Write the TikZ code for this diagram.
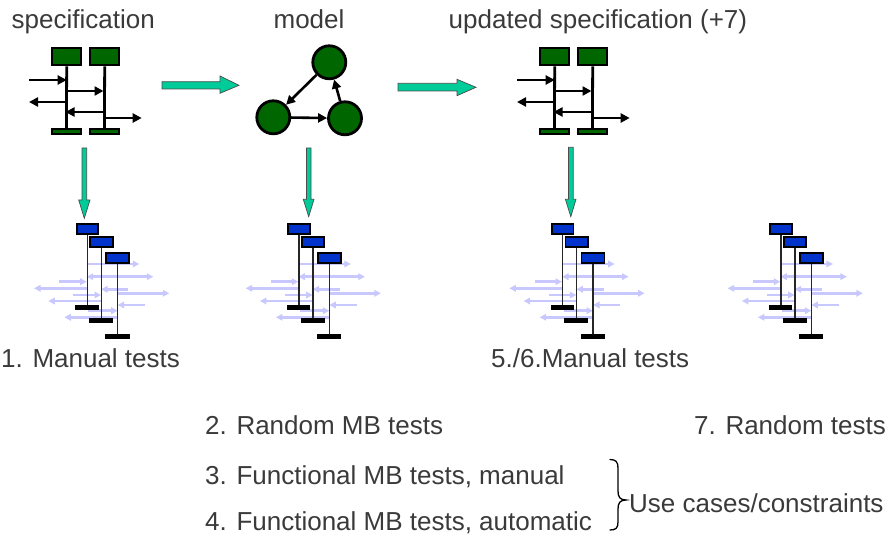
\documentclass[tikz,border=0pt]{standalone}
\usepackage{fontspec}
\setmainfont{Liberation Sans}
\usetikzlibrary{arrows.meta}
\definecolor{specgreen}{HTML}{006600}
\definecolor{testblue}{HTML}{0033CC}
\definecolor{msglav}{HTML}{C8C8FF}
\definecolor{flowteal}{HTML}{00CC99}
\definecolor{txtgray}{HTML}{3A3A3A}
\tikzset{
  lbl/.style={font=\fontsize{26}{30}\selectfont, text=txtgray, inner sep=0pt},
  gbox/.style={draw=black, line width=2.4pt, fill=specgreen},
  gbar/.style={draw=black, line width=1.8pt, fill=specgreen},
  gline/.style={draw=black, line width=2.8pt},
  gmsg/.style={draw=black, line width=2.6pt, -{Triangle[length=9pt,width=9pt]}},
  bbox/.style={draw=black, line width=1.8pt, fill=testblue},
  bbar/.style={fill=black},
  bline/.style={draw=black!85, line width=1.3pt},
  lmsg/.style={draw=msglav, line width=2.6pt, -{Triangle[length=6.5pt,width=6.5pt]}},
  ball/.style={circle, draw=black, line width=2.8pt, fill=specgreen, minimum size=33pt, inner sep=0pt},
  bigarrow/.style={draw=black!70, line width=0.7pt, fill=flowteal, line join=miter},
  pics/specdiag/.style={code={
    \node[gbox, minimum width=29pt, minimum height=17pt, inner sep=0pt, anchor=north west] (-b1) at (0,0) {};
    \node[gbox, minimum width=29pt, minimum height=17pt, inner sep=0pt, anchor=north west] (-b2) at (38,0) {};
    \node[gbar, minimum width=29pt, minimum height=5.5pt, inner sep=0pt, anchor=north west] (-e1) at (0,81) {};
    \node[gbar, minimum width=29pt, minimum height=5.5pt, inner sep=0pt, anchor=north west] (-e2) at (38,81) {};
    \draw[gline] (-b1.south) -- (-e1.north);
    \draw[gline] (-b2.south) -- (-e2.north);
    \coordinate (-in1) at (-22,33);
    \coordinate (-out1) at (-22,55);
    \coordinate (-out2) at (90.7,71);
    \draw[gmsg] (-in1) -- (-in1 -| -b1.south);
    \draw[gmsg] (14.5,44) -- (52.5,44);
    \draw[gmsg] (-out1 -| -b1.south) -- (-out1);
    \draw[gmsg] (52.5,65) -- (14.5,65);
    \draw[gmsg] (-out2 -| -b2.south) -- (-out2);
  }},
  pics/testdiag/.style={code={
    % messages first, so that the lifelines lie over them
    \draw[lmsg] (11,40.7) -- (63.6,40.7);
    \draw[lmsg] (42,53.4) -- (11,53.4);
    \draw[lmsg] (42,53.4) -- (77.6,53.4);
    \draw[lmsg] (-16.4,58.4) -- (11,58.4);
    \draw[lmsg] (11,65) -- (-41.7,65);
    \draw[lmsg] (52.6,66) -- (25.3,66);
    \draw[lmsg] (42,70) -- (93.6,70);
    \draw[lmsg] (-2.4,71.7) -- (25.3,71.7);
    \draw[lmsg] (25.3,77.7) -- (-27.4,77.7);
    \draw[lmsg] (69.3,81.7) -- (42,81.7);
    \draw[lmsg] (12.6,87.4) -- (42,87.4);
    \draw[lmsg] (42,94) -- (-11.4,94);
    \node[bbox, minimum width=21.6pt, minimum height=10pt, inner sep=0pt, anchor=north west] (-a) at (0,0) {};
    \node[bbox, minimum width=22.4pt, minimum height=10pt, inner sep=0pt, anchor=north west] (-b) at (13.6,12.7) {};
    \node[bbox, minimum width=23pt, minimum height=10.3pt, inner sep=0pt, anchor=north west] (-c) at (29.6,28.7) {};
    \node[bbar, minimum width=23.3pt, minimum height=5.3pt, inner sep=0pt, anchor=north west] (-ea) at (-0.7,81.4) {};
    \node[bbar, minimum width=24pt, minimum height=5pt, inner sep=0pt, anchor=north west] (-eb) at (13,95) {};
    \node[bbar, minimum width=24.3pt, minimum height=5pt, inner sep=0pt, anchor=north west] (-ec) at (29.3,110.7) {};
    \draw[bline] (-a.south) -- (-a.south |- -ea.north);
    \draw[bline] (-b.south) -- (-b.south |- -eb.north);
    \draw[bline] (-c.south) -- (-c.south |- -ec.north);
  }}
}
\begin{document}
\begin{tikzpicture}[x=1pt, y=-1pt]
\useasboundingbox (0,0) rectangle (892,537);

% headings
\node[lbl, anchor=base west] (hspec) at (11.5,28.3) {specification};
\node[lbl, anchor=base] (hmodel) at (309,28.3) {model};
\node[lbl, anchor=base west] (hupd) at (448.5,28.3) {updated specification (+7)};

% sequence charts of the specification
\pic (s1) at (51,47) {specdiag};
\pic (s2) at (539,47) {specdiag};

% state model
\node[ball] (m1) at (329.3,62.3) {};
\node[ball] (m2) at (273.3,117.3) {};
\node[ball] (m3) at (345,118.3) {};
\draw[gmsg] (m1) -- (m2);
\draw[gmsg] (m2) -- (m3);
\draw[gmsg] (m3) -- (m1);

% flow arrows
\draw[bigarrow] (162,81.7) -- (220,81.7) -- (220,76) -- (239,85.3) -- (220,93.3) -- (220,89) -- (162,89) -- cycle;
\draw[bigarrow] (398,83.3) -- (457,83.3) -- (457,79.3) -- (476,87.3) -- (457,95.7) -- (457,91) -- (398,91) -- cycle;
\draw[bigarrow] (82,148) -- (86.7,148) -- (86.7,200) -- (90,200) -- (84.3,218.3) -- (78.7,200) -- (82,200) -- cycle;
\draw[bigarrow] (306.4,148) -- (311,148) -- (311,199.3) -- (314,199.3) -- (308.7,216.7) -- (303.3,199.3) -- (306.4,199.3) -- cycle;
\draw[bigarrow] (568.4,147.3) -- (573.2,147.3) -- (573.2,199.3) -- (576,199.3) -- (570.8,216.7) -- (565.4,199.3) -- (568.4,199.3) -- cycle;

% generated test runs
\pic (t1) at (75.7,223.3) {testdiag};
\pic (t2) at (287.3,223.3) {testdiag};
\pic (t3) at (551,223.3) {testdiag};
\pic (t4) at (769.3,223.3) {testdiag};

% test kinds
\node[lbl, anchor=base west] (l1) at (1,368) {1. Manual tests};
\node[lbl, anchor=base west] (l56) at (491,368) {5./6.Manual tests};
\node[lbl, anchor=base west] (l2) at (205,434) {2. Random MB tests};
\node[lbl, anchor=base west] (l7) at (694,434) {7. Random tests};
\node[lbl, anchor=base west] (l3) at (205,484) {3. Functional MB tests, manual};
\node[lbl, anchor=base west] (l4) at (205,530) {4. Functional MB tests, automatic};

% brace joining 3 and 4
\coordinate (brtop) at (610,459.5);
\coordinate (brbot) at (610,530);
\coordinate (brtip) at (626,500);
\draw[black, line width=1.3pt, line cap=round]
  (brtop) .. controls (616,459.5) and (618,462) .. (618,468)
  -- (618,491) .. controls (618,497) and (620,500) .. (brtip)
  .. controls (620,500) and (618,503) .. (618,509)
  -- (618,522) .. controls (618,528) and (616,530) .. (brbot);
\node[lbl, anchor=base west] (luse) at (629,512) {Use cases/constraints};
\end{tikzpicture}
\end{document}
